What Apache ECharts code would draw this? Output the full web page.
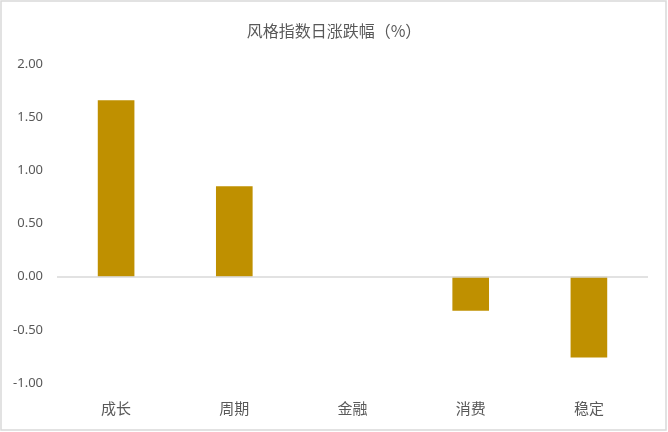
<!DOCTYPE html>
<html>
<head>
<meta charset="utf-8">
<script src="https://cdn.jsdelivr.net/npm/echarts@6/dist/echarts.min.js"></script>
<style>
html,body{margin:0;padding:0;background:#fff;}
#chart{width:668px;height:432px;}
</style>
</head>
<body>
<div id="chart"></div>
<script>
var categories = ['成长', '周期', '金融', '消费', '稳定'];
var values = [1.66, 0.85, 0.00, -0.32, -0.76];
var titleText = '风格指数日涨跌幅（%）';

var chart = echarts.init(document.getElementById('chart'));
chart.setOption({
  backgroundColor: '#ffffff',
  animation: false,
  title: {
    text: titleText,
    left: 'center',
    top: 18,
    textStyle: {
      color: '#595959',
      fontSize: 16,
      fontWeight: 'normal',
      fontFamily: '"Noto Sans CJK SC", sans-serif'
    }
  },
  graphic: [{
    type: 'rect',
    shape: { x: 1, y: 1, width: 665, height: 429 },
    style: { fill: 'none', stroke: '#d9d9d9', lineWidth: 1.5 },
    silent: true
  }],
  grid: { left: 57, right: 20, top: 64, bottom: 49 },
  xAxis: {
    type: 'category',
    data: categories,
    position: 'bottom',
    axisLine: { show: false, onZero: false },
    axisTick: { show: false },
    splitLine: { show: false },
    axisLabel: {
      color: '#595959',
      fontSize: 15,
      margin: 18,
      fontFamily: '"Noto Sans CJK SC", sans-serif'
    }
  },
  yAxis: {
    type: 'value',
    min: -1,
    max: 2,
    interval: 0.5,
    axisLine: { show: false },
    axisTick: { show: false },
    splitLine: { show: false },
    axisLabel: {
      color: '#595959',
      fontSize: 13,
      margin: 14,
      fontFamily: '"Noto Sans", "DejaVu Sans", sans-serif',
      formatter: function (v) { return v.toFixed(2); }
    }
  },
  series: [{
    type: 'bar',
    data: values,
    barWidth: '31%',
    itemStyle: { color: '#BF9000' },
    markLine: {
      silent: true,
      symbol: ['none', 'none'],
      label: { show: false },
      lineStyle: { color: '#d9d9d9', width: 1.5, type: 'solid' },
      data: [{ yAxis: 0 }]
    }
  }]
});
</script>
</body>
</html>
